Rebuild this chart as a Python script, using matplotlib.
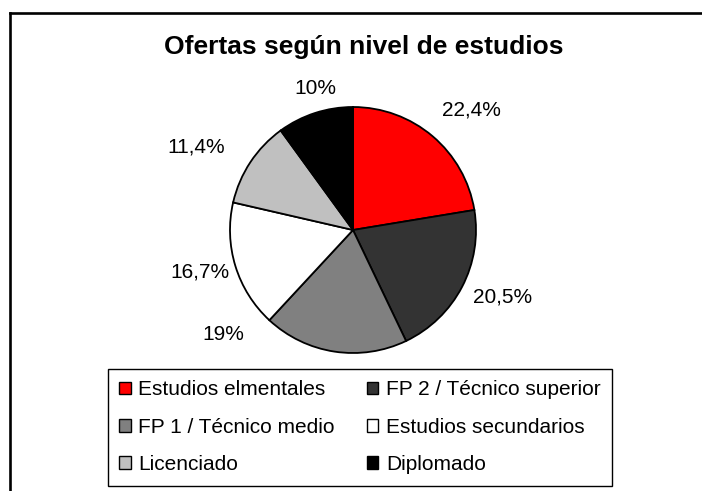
import matplotlib
matplotlib.use("Agg")
import matplotlib.pyplot as plt
from matplotlib.patches import Patch
from matplotlib.lines import Line2D

plt.rcParams['font.family'] = ['Liberation Sans', 'DejaVu Sans']

# ---- data ----
categories = ["Estudios elmentales", "FP 2 / Técnico superior", "FP 1 / Técnico medio",
              "Estudios secundarios", "Licenciado", "Diplomado"]
values = [22.4, 20.5, 19.0, 16.7, 11.4, 10.0]
title = "Ofertas según nivel de estudios"

# ---- styles / positions ----
colors = ["#FF0000", "#333333", "#808080", "#FFFFFF", "#C0C0C0", "#000000"]
W, H = 702, 491
cx, cy, R = 353, 230, 123
# label centres (pixels), placed like the original "outside end" labels
label_px = [(471, 110), (503, 297), (223, 335), (200, 272), (196, 147), (315, 88)]

fig = plt.figure(figsize=(W / 100, H / 100), dpi=100)
fig.patch.set_facecolor("white")

ax = fig.add_axes([(cx - R) / W, 1 - (cy + R) / H, 2 * R / W, 2 * R / H])
wedges, _ = ax.pie(values, colors=colors, startangle=90, counterclock=False,
                   radius=1, wedgeprops=dict(edgecolor="black", linewidth=1.3))
for w in wedges:
    w.set_clip_on(False)
ax.set_xlim(-1, 1)
ax.set_ylim(-1, 1)
ax.set_aspect("auto")
ax.axis("off")

def fmt(v):
    s = f"{v:g}".replace(".", ",")
    return s + "%"

for v, (px, py) in zip(values, label_px):
    ax.text((px - cx) / R, (cy - py) / R, fmt(v), ha="center", va="center",
            fontsize=15, color="black", clip_on=False)

fig.text(364 / W, 1 - 47 / H, title, ha="center", va="center",
         fontsize=19, fontweight="bold")

handles = [Patch(facecolor=c, edgecolor="black", linewidth=1.0) for c in colors]
order = [0, 2, 4, 1, 3, 5]
leg = fig.legend([handles[i] for i in order], [categories[i] for i in order],
                 loc="upper left", bbox_to_anchor=(108 / W, 1 - 369 / H),
                 ncol=2, fontsize=15, frameon=True, fancybox=False, shadow=False,
                 framealpha=1, edgecolor="black", borderpad=0.55,
                 handlelength=0.55, handleheight=0.55, handletextpad=0.35,
                 columnspacing=1.55, labelspacing=0.88, borderaxespad=0)
leg.get_frame().set_linewidth(1.0)

# outer chart-area border (only top and left visible in the crop)
fig.add_artist(Line2D([10 / W, 1.0], [1 - 13 / H, 1 - 13 / H], transform=fig.transFigure,
                      color="black", linewidth=1.9))
fig.add_artist(Line2D([10 / W, 10 / W], [1 - 13 / H, 0.0], transform=fig.transFigure,
                      color="black", linewidth=1.9))

fig.savefig("out.png", dpi=100)
